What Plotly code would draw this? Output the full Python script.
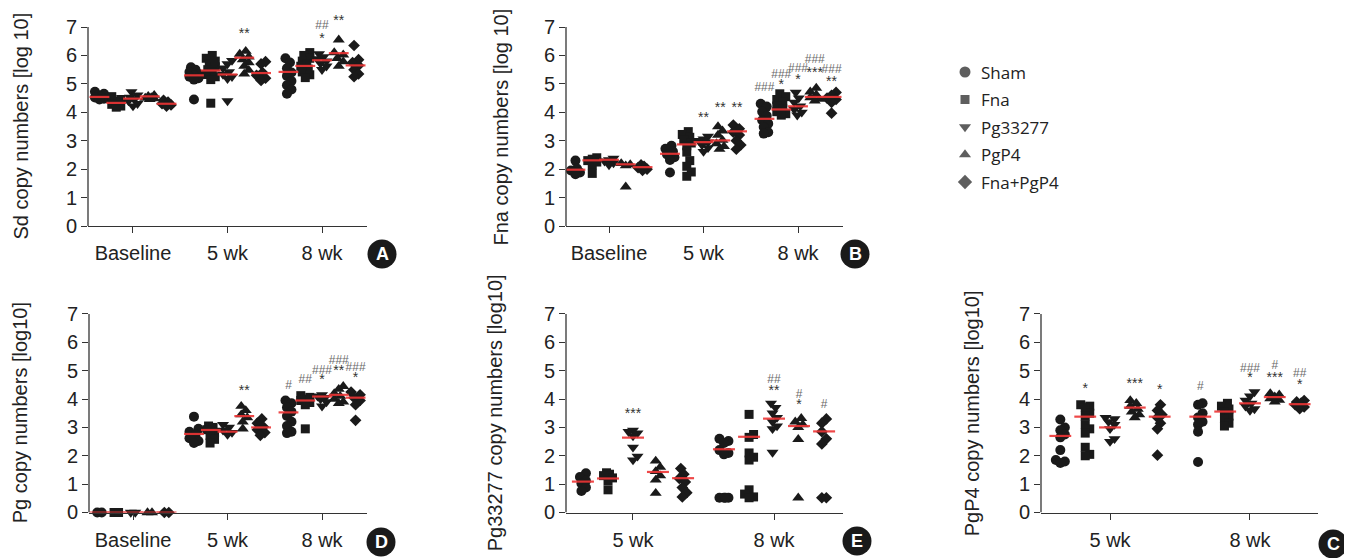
import plotly.graph_objects as go

# ---------------- data ----------------
GROUPS = ["Sham", "Fna", "Pg33277", "PgP4", "Fna+PgP4"]
SYMBOLS = ["circle", "square", "triangle-down", "triangle-up", "diamond"]
TIMES3 = ["Baseline", "5 wk", "8 wk"]
TIMES2 = ["5 wk", "8 wk"]
Y_TICKS = [0, 1, 2, 3, 4, 5, 6, 7]

# Panel A: Sd
SD_BASE = [[4.72, 4.65, 4.6, 4.55, 4.52, 4.48, 4.45],
           [4.55, 4.45, 4.38, 4.32, 4.28, 4.22, 4.18],
           [4.72, 4.6, 4.52, 4.46, 4.4, 4.3, 4.22],
           [4.6, 4.56, 4.52, 4.5, 4.48, 4.45],
           [4.42, 4.36, 4.3, 4.26, 4.22]]
SD_5WK = [[5.58, 5.5, 5.42, 5.35, 5.3, 5.25, 5.2, 5.15, 4.45],
          [6.0, 5.9, 5.8, 5.7, 5.6, 5.5, 5.42, 5.33, 5.25, 5.15, 4.32],
          [5.82, 5.7, 5.55, 5.42, 5.33, 5.25, 5.18, 4.4],
          [6.15, 6.05, 5.95, 5.85, 5.75, 5.62, 5.48, 5.35],
          [5.78, 5.7, 5.4, 5.3, 5.2, 5.12]]
SD_8WK = [[5.9, 5.75, 5.55, 5.4, 5.28, 5.1, 4.95, 4.8, 4.65],
          [6.1, 6.0, 5.9, 5.8, 5.7, 5.62, 5.52, 5.42, 5.32, 5.22],
          [6.05, 5.95, 5.88, 5.8, 5.72, 5.62, 5.5],
          [6.55, 6.1, 6.02, 5.9, 5.78, 5.62],
          [6.35, 5.85, 5.75, 5.65, 5.5, 5.35, 5.25]]
SD_MEAN = [[4.54, 4.33, 4.48, 4.56, 4.3], [5.3, 5.47, 5.33, 5.92, 5.38], [5.42, 5.63, 5.83, 6.08, 5.65]]
SD_SIG = [(1, 3, "**", 6.73), (2, 2, "*", 6.55), (2, 2, "##", 7.02), (2, 3, "**", 7.2)]

# Panel B: Fna
FNA_BASE = [[2.3, 2.02, 1.95, 1.88, 1.82],
            [2.4, 2.35, 2.3, 2.25, 2.15, 1.85],
            [2.38, 2.33, 2.28, 2.22, 2.15],
            [2.2, 2.16, 2.12, 1.38],
            [2.15, 2.1, 2.05, 2.0, 1.96]]
FNA_5WK = [[2.82, 2.72, 2.62, 2.52, 2.42, 2.32, 1.88],
           [3.32, 3.22, 3.12, 3.02, 2.92, 2.82, 2.6, 2.3, 2.1, 1.9, 1.75],
           [3.15, 3.06, 3.0, 2.95, 2.85, 2.75, 2.62],
           [3.5, 3.35, 3.2, 3.02, 2.9, 2.8, 2.7],
           [3.55, 3.42, 3.3, 3.2, 3.0, 2.85, 2.7]]
FNA_8WK = [[4.3, 4.2, 4.02, 3.88, 3.72, 3.6, 3.48, 3.3, 3.25],
           [4.65, 4.55, 4.45, 4.35, 4.22, 4.12, 4.02, 3.95, 3.9],
           [4.7, 4.5, 4.35, 4.22, 4.1, 4.0, 3.9],
           [4.85, 4.72, 4.62, 4.52, 4.46, 4.4],
           [4.7, 4.6, 4.5, 4.45, 4.35, 3.97]]
FNA_MEAN = [[1.98, 2.31, 2.33, 2.17, 2.07], [2.54, 2.87, 2.95, 3.01, 3.33], [3.77, 4.1, 4.21, 4.54, 4.54]]
FNA_SIG = [(1, 2, "**", 3.77), (1, 3, "**", 4.13), (1, 4, "**", 4.13),
           (2, 0, "###", 4.87), (2, 1, "*", 4.95), (2, 1, "###", 5.3),
           (2, 2, "*", 5.12), (2, 2, "###", 5.53), (2, 3, "***", 5.38),
           (2, 3, "###", 5.83), (2, 4, "**", 5.06), (2, 4, "###", 5.5)]

# Panel D: Pg
PG_BASE = [[0, 0], [0, 0], [0, 0], [0, 0], [0, 0]]
PG_5WK = [[3.38, 2.95, 2.85, 2.75, 2.62, 2.52, 2.45],
          [3.05, 3.0, 2.92, 2.82, 2.72, 2.58, 2.45],
          [3.1, 3.0, 2.9, 2.82, 2.75],
          [3.75, 3.6, 3.45, 3.35, 3.2, 2.95],
          [3.3, 3.15, 3.02, 2.92, 2.82, 2.72]]
PG_8WK = [[3.95, 3.85, 3.7, 3.55, 3.4, 3.2, 3.05, 2.85, 2.8],
          [4.12, 4.06, 4.0, 3.95, 3.88, 3.8, 2.95],
          [4.15, 4.1, 4.05, 4.0, 3.9, 3.75],
          [4.45, 4.35, 4.2, 4.1, 4.0, 3.9, 3.85],
          [4.25, 4.15, 4.05, 3.95, 3.8, 3.25]]
PG_MEAN = [[0, 0, 0, 0, 0], [2.77, 2.91, 2.85, 3.4, 3.0], [3.53, 3.95, 4.09, 4.15, 4.05]]
PG_SIG = [(1, 3, "**", 4.27), (2, 0, "#", 4.47), (2, 1, "##", 4.68), (2, 2, "*", 4.65),
          (2, 2, "###", 5.0), (2, 3, "**", 4.97), (2, 3, "###", 5.36), (2, 4, "*", 4.74),
          (2, 4, "###", 5.09)]

# Panel E: Pg33277
PG33_5WK = [[1.38, 1.25, 1.12, 1.02, 0.88, 0.76],
            [1.4, 1.35, 1.3, 1.22, 1.12, 0.8],
            [2.9, 2.85, 2.8, 2.7, 2.3, 1.98, 1.85],
            [1.82, 1.6, 1.45, 1.3, 1.15, 0.68],
            [1.55, 1.35, 1.2, 1.08, 0.88, 0.7, 0.55]]
PG33_8WK = [[2.6, 2.52, 2.45, 2.2, 2.1, 2.05, 0.52, 0.52, 0.52, 0.52],
            [3.46, 2.75, 2.65, 2.1, 1.95, 1.85, 0.8, 0.65, 0.55, 0.52],
            [3.85, 3.7, 3.5, 3.35, 3.2, 3.05, 2.95, 2.12],
            [3.32, 3.2, 3.1, 3.0, 2.58, 0.52],
            [3.3, 3.15, 2.85, 2.6, 2.42, 0.52, 0.52]]
PG33_MEAN = [[1.09, 1.2, 2.64, 1.43, 1.21], [2.23, 2.67, 3.31, 3.05, 2.86]]
PG33_SIG = [(0, 2, "***", 3.46), (1, 2, "**", 4.28), (1, 2, "##", 4.67),
            (1, 3, "*", 3.77), (1, 3, "#", 4.13), (1, 4, "#", 3.8)]

# Panel C: PgP4
PGP4_5WK = [[3.28, 3.0, 2.9, 2.75, 2.65, 2.2, 1.85, 1.8, 1.75],
            [3.8, 3.75, 3.7, 3.5, 3.4, 3.1, 2.95, 2.8, 2.3, 2.05, 2.0],
            [3.35, 3.3, 3.2, 3.1, 2.95, 2.6, 2.5],
            [3.95, 3.85, 3.75, 3.65, 3.55, 3.45, 3.35],
            [3.8, 3.6, 3.45, 3.35, 3.15, 2.95, 2.02]]
PGP4_8WK = [[3.85, 3.8, 3.5, 3.35, 3.2, 3.1, 2.85, 1.78],
            [3.85, 3.75, 3.65, 3.55, 3.4, 3.3, 3.15, 3.05],
            [4.25, 4.1, 3.95, 3.85, 3.75, 3.65, 3.6],
            [4.2, 4.15, 4.08, 4.02, 3.96, 3.9],
            [3.95, 3.9, 3.86, 3.8, 3.72, 3.66]]
PGP4_MEAN = [[2.7, 3.38, 3.0, 3.7, 3.38], [3.38, 3.56, 3.85, 4.07, 3.82]]
PGP4_SIG = [(0, 1, "*", 4.32), (0, 3, "***", 4.52), (0, 4, "*", 4.29),
            (1, 0, "#", 4.44), (1, 2, "*", 4.71), (1, 2, "###", 5.07),
            (1, 3, "***", 4.74), (1, 3, "#", 5.17), (1, 4, "*", 4.47), (1, 4, "##", 4.88)]

# ---------------- layout constants ----------------
# the page body has an 8px margin, so the figure is drawn 8px in from the window corner
OX, OY = 8, 8
W, H = 1352 - OX, 558 - OY
YMAX_AXIS = 7.0      # where the drawn y-axis line stops
YMAX_RANGE = 7.6     # headroom for significance marks above 7
OFFSETS = [-0.355, -0.177, 0.0, 0.177, 0.355]
MARKER_SIZES = [10, 9, 10.5, 10.5, 9]
LEGEND_SIZES = [11, 9, 10.5, 10.5, 11]
FONT = "Liberation Sans, Arial, sans-serif"
INK = "#1a1a1a"
RED = "#ee3535"
AXC = "#333333"


def fx(X):
    return (X - OX) / W


def fy(Y):
    return 1 - (Y - OY) / H


PANELS = [
    dict(letter="A", title="Sd copy numbers [log 10]", times=TIMES3,
         data=[SD_BASE, SD_5WK, SD_8WK], mean=SD_MEAN, sig=SD_SIG,
         px=(88, 367), py=(226, 27), xr=[-0.476, 2.476], tx=20, circ=(382, 254), half=0.105),
    dict(letter="B", title="Fna copy numbers [log 10]", times=TIMES3,
         data=[FNA_BASE, FNA_5WK, FNA_8WK], mean=FNA_MEAN, sig=FNA_SIG,
         px=(566, 843), py=(226, 27), xr=[-0.455, 2.476], tx=500, circ=(855, 254), half=0.105),
    dict(letter="D", title="Pg copy numbers [log10]", times=TIMES3,
         data=[PG_BASE, PG_5WK, PG_8WK], mean=PG_MEAN, sig=PG_SIG,
         px=(89, 367), py=(512.5, 314), xr=[-0.466, 2.476], tx=20, circ=(381, 542), half=0.105),
    dict(letter="E", title="Pg33277 copy numbers [log10]", times=TIMES2,
         data=[PG33_5WK, PG33_8WK], mean=PG33_MEAN, sig=PG33_SIG,
         px=(566, 843), py=(512.5, 314), xr=[-0.475, 1.489], tx=495, circ=(857, 541), half=0.078),
    dict(letter="C", title="PgP4 copy numbers [log10]", times=TIMES2,
         data=[PGP4_5WK, PGP4_8WK], mean=PGP4_MEAN, sig=PGP4_SIG,
         px=(1041, 1318), py=(512.5, 314), xr=[-0.493, 1.486], tx=972, circ=(1333, 544), half=0.078),
]


def swarm(vals, ppx, ppy, diam=6.0, step=1.5, maxoff=5.0):
    """Deterministic, centred beeswarm offsets (in x data units)."""
    order = sorted(range(len(vals)), key=lambda i: vals[i])
    cands = [0.0]
    k = 1
    while k * step <= maxoff + 1e-9:
        cands += [k * step, -k * step]
        k += 1
    placed = []
    off = [0.0] * len(vals)
    for i in order:
        vy = vals[i] * ppy
        best, bestd = 0.0, -1.0
        for c in cands:
            d = min([((c - ox) ** 2 + (vy - oy) ** 2) ** 0.5 for ox, oy in placed], default=1e9)
            if d >= diam:
                best = c
                break
            if d > bestd:
                bestd, best = d, c
        placed.append((best, vy))
        off[i] = best
    mid = (max(off) + min(off)) / 2.0
    return [(o - mid) / ppx for o in off]


fig = go.Figure()
layout = dict(width=W, height=H, margin=dict(l=0, r=0, t=0, b=0, pad=0), autosize=False,
              paper_bgcolor="white", plot_bgcolor="rgba(0,0,0,0)", showlegend=False,
              shapes=[], annotations=[])

for idx, p in enumerate(PANELS, start=1):
    xa = "x" if idx == 1 else f"x{idx}"
    ya = "y" if idx == 1 else f"y{idx}"
    x0, x1 = p["px"]
    ybot, ytop = p["py"]
    ppx = (x1 - x0) / (p["xr"][1] - p["xr"][0])
    ppy = (ybot - ytop) / YMAX_AXIS
    ytop_ext = ybot - YMAX_RANGE * ppy
    ntime = len(p["times"])

    # points
    for g in range(5):
        xs, ys = [], []
        for t in range(ntime):
            vals = p["data"][t][g]
            offs = swarm(vals, ppx, ppy)
            xs += [t + OFFSETS[g] + o for o in offs]
            ys += list(vals)
        fig.add_trace(go.Scatter(
            x=xs, y=ys, mode="markers", xaxis=xa, yaxis=ya, cliponaxis=False,
            marker=dict(symbol=SYMBOLS[g], color=INK, size=MARKER_SIZES[g], line=dict(width=0)),
            name=GROUPS[g], hoverinfo="skip"))

    # mean lines
    lx, ly = [], []
    for t in range(ntime):
        for g in range(5):
            c = t + OFFSETS[g]
            m = p["mean"][t][g]
            lx += [c - p["half"], c + p["half"], None]
            ly += [m, m, None]
    fig.add_trace(go.Scatter(x=lx, y=ly, mode="lines", xaxis=xa, yaxis=ya, cliponaxis=False,
                             line=dict(color=RED, width=2.2), opacity=0.9, hoverinfo="skip"))

    # significance marks
    sx, sy, st, ss, sc = [], [], [], [], []
    for (t, g, txt, yv) in p["sig"]:
        is_star = txt.startswith("*")
        sx.append(t + OFFSETS[g])
        sy.append(yv)
        st.append(txt)
        ss.append(14 if is_star else 12)
        sc.append("#333333" if is_star else "#6a6a6a")
    fig.add_trace(go.Scatter(x=sx, y=sy, text=st, mode="text", xaxis=xa, yaxis=ya,
                             cliponaxis=False, textposition="middle center",
                             textfont=dict(family=FONT, size=ss, color=sc), hoverinfo="skip"))

    # axes
    key = "" if idx == 1 else str(idx)
    layout["xaxis" + key] = dict(
        domain=[fx(x0), fx(x1)], range=p["xr"], anchor=ya, automargin=False,
        tickvals=list(range(ntime)), ticktext=p["times"],
        showline=True, linecolor=AXC, linewidth=1.3, ticks="outside", ticklen=6,
        tickwidth=1.3, tickcolor=AXC, showgrid=False, zeroline=False, ticklabelstandoff=3,
        tickfont=dict(family=FONT, size=20, color="#222"), fixedrange=True)
    layout["yaxis" + key] = dict(
        domain=[fy(ybot), fy(ytop_ext)], range=[0, YMAX_RANGE], anchor=xa, automargin=False,
        tickvals=Y_TICKS, showline=False,
        ticks="outside", ticklen=6, tickwidth=1.3, tickcolor=AXC,
        showgrid=False, zeroline=False,
        tickfont=dict(family=FONT, size=20, color="#222"), fixedrange=True)
    # y-axis line, from 0 up to 7 only
    layout["shapes"].append(dict(type="line", xref=f"{xa} domain", yref=ya,
                                 x0=0, x1=0, y0=0, y1=YMAX_AXIS,
                                 line=dict(color=AXC, width=1.3)))

    # y title
    layout["annotations"].append(dict(
        text=p["title"], x=fx(p["tx"]), y=fy((ybot + ytop) / 2), xref="paper", yref="paper",
        textangle=-90, showarrow=False, xanchor="center", yanchor="middle",
        font=dict(family=FONT, size=20, color="#222")))

    # panel letter badge
    cx, cy = p["circ"]
    r = 14.5
    layout["shapes"].append(dict(type="circle", xref="paper", yref="paper",
                                 x0=fx(cx - r), x1=fx(cx + r),
                                 y0=fy(cy + r), y1=fy(cy - r),
                                 fillcolor="#1a1a1a", line=dict(width=0)))
    layout["annotations"].append(dict(
        text="<b>%s</b>" % p["letter"], x=fx(cx), y=fy(cy), xref="paper", yref="paper",
        showarrow=False, xanchor="center", yanchor="middle",
        font=dict(family=FONT, size=18, color="white")))

# legend (custom, on a hidden axis)
fig.add_trace(go.Scatter(
    x=[0] * len(GROUPS), y=list(range(len(GROUPS))), mode="markers",
    xaxis="x6", yaxis="y6", cliponaxis=False, hoverinfo="skip",
    marker=dict(symbol=SYMBOLS, color=INK, size=LEGEND_SIZES, line=dict(width=0))))
layout["xaxis6"] = dict(domain=[fx(955), fx(1105)], range=[-1, 14], visible=False,
                        fixedrange=True, anchor="y6", automargin=False)
layout["yaxis6"] = dict(domain=[fy(209.5), fy(44.5)], range=[5, -1], visible=False,
                        fixedrange=True, anchor="x6", automargin=False)
for i, name in enumerate(GROUPS):
    layout["annotations"].append(dict(
        text=name, x=1.4, y=i, xref="x6", yref="y6", showarrow=False,
        xanchor="left", yanchor="middle",
        font=dict(family="Open Sans, Noto Sans, sans-serif", size=17, color="#222")))

fig.update_layout(**layout)
fig.write_html("out.html")
